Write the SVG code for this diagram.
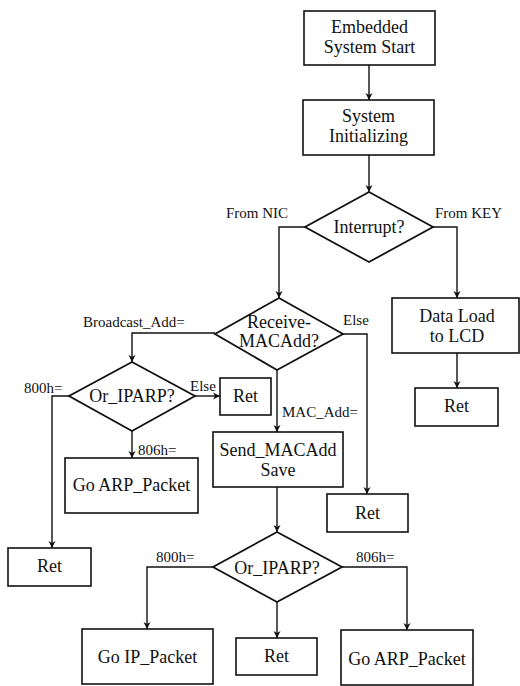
<svg xmlns="http://www.w3.org/2000/svg" width="520" height="686" viewBox="0 0 520 686">
  <style>
    .box { fill: #fff; stroke: #111; stroke-width: 1.6; }
    .dia { fill: #fff; stroke: #111; stroke-width: 1.8; }
    .t { font-family: "Liberation Serif", "Times New Roman", serif; font-size: 18px; fill: #111; text-anchor: middle; }
    .lbl { font-family: "Liberation Serif", "Times New Roman", serif; font-size: 15px; fill: #111; }
    .edge { fill: none; stroke: #111; stroke-width: 1.4; marker-end: url(#arrow); }
  </style>
  <defs>
    <marker id="arrow" markerUnits="userSpaceOnUse" markerWidth="8" markerHeight="8" refX="7" refY="4" orient="auto">
      <path d="M0,0.5 L7,4 L0,7.5 L2,4 z" fill="#111"/>
    </marker>
  </defs>
  <rect width="520" height="686" fill="#fff"/>

  <g id="connectors">
    <path class="edge" d="M369,65 V100"/>
    <path class="edge" d="M369,155 V192"/>
    <path class="edge" d="M305,227 H279 V298"/>
    <path class="edge" d="M433,227 H457 V298"/>
    <path class="edge" d="M457,353 V388"/>
    <path class="edge" d="M215,333 H132 V362"/>
    <path class="edge" d="M343,334 H367 V494"/>
    <path class="edge" d="M277,370 V432"/>
    <path class="edge" d="M69,396 H52 V548"/>
    <path class="edge" d="M195,396 H220"/>
    <path class="edge" d="M132,431 V458"/>
    <path class="edge" d="M277,487 V532"/>
    <path class="edge" d="M213,567 H147 V629"/>
    <path class="edge" d="M277,602 V638"/>
    <path class="edge" d="M342,567 H407 V630"/>
  </g>

  <g id="edge-labels">
    <text class="lbl" x="226" y="218">From NIC</text>
    <text class="lbl" x="435" y="218">From KEY</text>
    <text class="lbl" x="83" y="327">Broadcast_Add=</text>
    <text class="lbl" x="343" y="325">Else</text>
    <text class="lbl" x="24" y="393">800h=</text>
    <text class="lbl" x="190" y="391">Else</text>
    <text class="lbl" x="282" y="417">MAC_Add=</text>
    <text class="lbl" x="138" y="455">806h=</text>
    <text class="lbl" x="156" y="562">800h=</text>
    <text class="lbl" x="356" y="562">806h=</text>
  </g>

  <g id="start">
    <rect class="box" x="304" y="11" width="131" height="54"/>
    <text class="t" x="369.5" y="33">Embedded</text>
    <text class="t" x="369.5" y="53">System Start</text>
  </g>
  <g id="init">
    <rect class="box" x="303" y="100" width="131" height="55"/>
    <text class="t" x="368.5" y="122">System</text>
    <text class="t" x="368.5" y="142">Initializing</text>
  </g>
  <g id="interrupt">
    <polygon class="dia" points="369,192 433,227 369,262 305,227"/>
    <text class="t" x="369" y="233">Interrupt?</text>
  </g>
  <g id="data-load">
    <rect class="box" x="392" y="298" width="127" height="55"/>
    <text class="t" x="457" y="322">Data Load</text>
    <text class="t" x="457" y="342">to LCD</text>
  </g>
  <g id="ret-lcd">
    <rect class="box" x="415" y="388" width="83" height="38"/>
    <text class="t" x="456.5" y="412">Ret</text>
  </g>
  <g id="receive">
    <polygon class="dia" points="279,298 343,334 277,370 215,334"/>
    <text class="t" x="279" y="328">Receive-</text>
    <text class="t" x="279" y="347">MACAdd?</text>
  </g>
  <g id="or-iparp-1">
    <polygon class="dia" points="132,362 195,396 132,431 69,396"/>
    <text class="t" x="132" y="402">Or_IPARP?</text>
  </g>
  <g id="ret-else-1">
    <rect class="box" x="220" y="378" width="51" height="37"/>
    <text class="t" x="245.5" y="402">Ret</text>
  </g>
  <g id="go-arp-1">
    <rect class="box" x="65" y="458" width="133" height="55"/>
    <text class="t" x="131.5" y="491">Go ARP_Packet</text>
  </g>
  <g id="send-macadd">
    <rect class="box" x="213" y="432" width="130" height="55"/>
    <text class="t" x="278" y="456">Send_MACAdd</text>
    <text class="t" x="278" y="476">Save</text>
  </g>
  <g id="ret-else-2">
    <rect class="box" x="327" y="494" width="81" height="38"/>
    <text class="t" x="367.5" y="519">Ret</text>
  </g>
  <g id="ret-800h">
    <rect class="box" x="8" y="548" width="83" height="38"/>
    <text class="t" x="49.5" y="572">Ret</text>
  </g>
  <g id="or-iparp-2">
    <polygon class="dia" points="277,532 342,567 277,602 213,567"/>
    <text class="t" x="277" y="574">Or_IPARP?</text>
  </g>
  <g id="go-ip">
    <rect class="box" x="82" y="629" width="131" height="55"/>
    <text class="t" x="147.5" y="663">Go IP_Packet</text>
  </g>
  <g id="ret-mid">
    <rect class="box" x="236" y="638" width="81" height="37"/>
    <text class="t" x="276.5" y="662">Ret</text>
  </g>
  <g id="go-arp-2">
    <rect class="box" x="341" y="630" width="132" height="55"/>
    <text class="t" x="407" y="665">Go ARP_Packet</text>
  </g>
</svg>
